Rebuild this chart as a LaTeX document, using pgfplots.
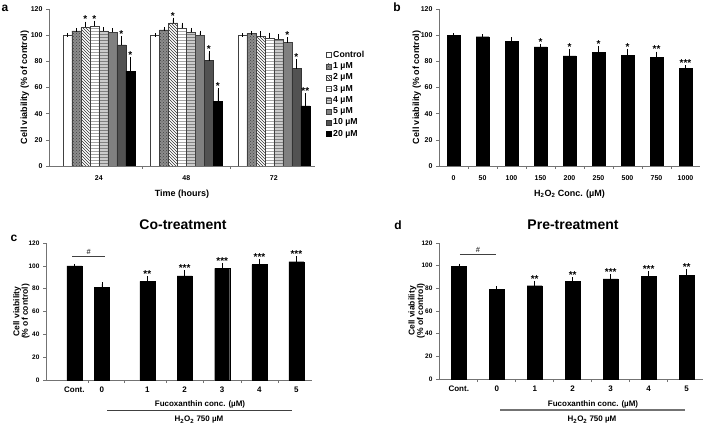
\documentclass[border=0pt]{standalone}
\usepackage{fontspec}
\setmainfont{Liberation Sans}
\usepackage{pgfplots}
\pgfplotsset{compat=1.18}
\usepackage{pgfplotstable}
\usetikzlibrary{patterns}

\newcommand{\fs}[1]{\fontsize{#1}{#1}\selectfont}

\pgfplotstableread{
g v0 e0 s0 v1 e1 s1 v2 e2 s2 v3 e3 s3 v4 e4 s4 v5 e5 s5 v6 e6 s6 v7 e7 s7
0 100 0 {} 103.2 0.4 {} 106.2 2.6 * 107.0 2.5 * 103.2 1.5 {} 102.2 1.5 {} 92.5 5.3 * 72.6 8.9 *
1 100 0 {} 104.0 0.4 {} 109.3 2.5 * 105.5 2.5 {} 102.4 1.6 {} 100.0 2.0 {} 80.6 5.4 * 49.6 8.5 *
2 100 0 {} 101.4 0.4 {} 98.9 2.5 {} 97.6 2.8 {} 97.0 2.0 {} 94.3 2.5 * 74.4 5.6 * 45.9 8.2 {**}
}\tabA

\pgfplotstableread{
x v e s
0 100.0 0.0 {}
1 98.8 0.3 {}
2 95.1 1.8 {}
3 91.0 0.8 *
4 84.1 3.9 *
5 86.7 3.3 *
6 84.6 3.4 *
7 83.3 2.6 {**}
8 74.9 0.5 {***}
}\tabB

\pgfplotstableread{
x v e s
0.00 100.0 0.0 {}
0.74 81.0 3.0 {}
1.96 86.3 2.8 {**}
2.96 91.3 3.3 {***}
3.97 97.7 3.2 {***}
4.97 101.0 3.0 {***}
5.96 103.6 3.2 {***}
}\tabC

\pgfplotstableread{
x v e s
0 99.7 0.3 {}
1 79.0 1.0 {}
2 82.3 2.5 {**}
3 86.0 2.2 {**}
4 88.4 2.3 {***}
5 90.7 2.8 {***}
6 91.7 3.3 {**}
}\tabD

\pgfplotsset{
  base/.style={
    scale only axis, anchor=south west,
    axis lines*=left,
    axis line style={black!55, line width=0.6pt},
    ymin=0, ymax=120, ytick={0,20,...,120},
    tick align=outside, major tick length=3pt, minor tick length=3pt,
    tick style={black!55, line width=0.6pt},
    major x tick style={draw=none},
    /pgf/number format/assume math mode=true,
    tick label style={font=\bfseries\fs{7}},
    label style={font=\bfseries\fs{9}},
    error bars/y dir=plus, error bars/y explicit,
    error bars/error bar style={black, line width=0.5pt},
    error bars/error mark options={black, line width=0.5pt, mark size=2pt},
  },
  stars/.style 2 args={visualization depends on={\thisrow{#1}\as\err},
    nodes near coords, point meta=explicit symbolic,
    every node near coord/.append style={font=\bfseries\fs{10}, anchor=south, inner sep=0pt, yshift={(\err*#2+0.5)*1pt}}},
}

\begin{document}
\begin{tikzpicture}
\path[use as bounding box] (0pt,0pt) rectangle (708pt,425pt);

% ---------- panel a
\begin{axis}[base, at={(49pt,259pt)}, width=266pt, height=157pt,
  ybar=0pt, bar width=9pt, xmin=-0.57, xmax=2.47,
  xtick={0,1,2}, xticklabels={24,48,72}, minor xtick={0.5,1.5},
  xticklabel style={yshift=-3pt}, xlabel shift=3pt, ylabel shift=-5pt,
  xlabel={Time (hours)}, ylabel={Cell viability (\% of control)},
  legend style={at={(1.04,0.745)}, anchor=north west, draw=none, fill=none,
    font=\bfseries\fs{8.7}, row sep=-0.3pt, inner sep=0pt},
  legend cell align=left,
  legend image code/.code={\draw[#1] (0pt,-2.5pt) rectangle (5pt,2.5pt);}]
\addplot[fill=white, draw=black!75, stars={e0}{1.3083}] table[x=g,y=v0,y error=e0,meta=s0]{\tabA};
\addplot[fill=black!45, draw=black!75, postaction={pattern=crosshatch dots, pattern color=black!75}, stars={e1}{1.3083}] table[x=g,y=v1,y error=e1,meta=s1]{\tabA};
\addplot[fill=white, draw=black!75, postaction={pattern=north west lines, pattern color=black!80}, stars={e2}{1.3083}] table[x=g,y=v2,y error=e2,meta=s2]{\tabA};
\addplot[fill=white, draw=black!75, postaction={pattern=horizontal lines, pattern color=black!35}, stars={e3}{1.3083}] table[x=g,y=v3,y error=e3,meta=s3]{\tabA};
\addplot[fill=black!20, draw=black!75, postaction={pattern=horizontal lines, pattern color=black!50}, stars={e4}{1.3083}] table[x=g,y=v4,y error=e4,meta=s4]{\tabA};
\addplot[fill=black!50, draw=black!75, stars={e5}{1.3083}] table[x=g,y=v5,y error=e5,meta=s5]{\tabA};
\addplot[fill=black!68, draw=black!80, stars={e6}{1.3083}] table[x=g,y=v6,y error=e6,meta=s6]{\tabA};
\addplot[fill=black, draw=black, stars={e7}{1.3083}] table[x=g,y=v7,y error=e7,meta=s7]{\tabA};
\legend{Control,1 µM,2 µM,3 µM,4 µM,5 µM,10 µM,20 µM}
\end{axis}

% ---------- panel b
\begin{axis}[base, at={(439pt,259pt)}, width=261pt, height=157pt,
  ybar, bar width=13pt, xmin=-0.5, xmax=8.5,
  xtick={0,...,8}, xticklabels={0,50,100,150,200,250,500,750,1000},
  minor xtick={0.5,1.5,...,7.5},
  xticklabel style={yshift=-3pt}, xlabel shift=3pt, ylabel shift=-7pt,
  xlabel={H\textsubscript{2}O\textsubscript{2} Conc. (µM)}, ylabel={Cell viability (\% of control)}]
\addplot[fill=black, draw=black, stars={e}{1.3083}] table[x=x,y=v,y error=e,meta=s]{\tabB};
\end{axis}

% ---------- panel c
\begin{axis}[base, at={(46pt,45pt)}, width=266pt, height=137pt,
  ybar, bar width=15pt, xmin=-0.76, xmax=6.38,
  xtick={0,0.74,1.96,2.96,3.97,4.97,5.96}, xticklabels={Cont.,0,1,2,3,4,5},
  minor xtick={0.37,1.35,2.46,3.465,4.47,5.465},
  yticklabel style={font=\bfseries\fs{6.5}},
  xticklabel style={font=\bfseries\fs{8}},
  ylabel shift=-8pt,
  ylabel={Cell viability\\(\% of control)}, ylabel style={align=center, font=\bfseries\fs{8.5}}]
\addplot[fill=black, draw=black, stars={e}{1.1417}] table[x=x,y=v,y error=e,meta=s]{\tabC};
\draw[black!75, line width=0.6pt] (axis cs:-0.05,108.6) -- (axis cs:0.82,108.6) node[midway, above, inner sep=1pt, font=\bfseries\fs{7.5}] {\#};
\end{axis}

% ---------- panel d
\begin{axis}[base, at={(439pt,46pt)}, width=264pt, height=136pt,
  ybar, bar width=15pt, xmin=-0.52, xmax=6.43,
  xtick={0,...,6}, xticklabels={Cont.,0,1,2,3,4,5},
  minor xtick={0.5,1.5,...,5.5},
  yticklabel style={font=\bfseries\fs{6.5}},
  xticklabel style={font=\bfseries\fs{8}},
  ylabel shift=-10pt,
  ylabel={Cell viability\\(\% of control)}, ylabel style={align=center, font=\bfseries\fs{8.5}}]
\addplot[fill=black, draw=black, stars={e}{1.1333}] table[x=x,y=v,y error=e,meta=s]{\tabD};
\draw[black!75, line width=0.6pt] (axis cs:0.03,110.3) -- (axis cs:0.98,110.3) node[midway, above, inner sep=1pt, font=\bfseries\fs{7.5}] {\#};
\end{axis}

% ---------- titles, letters, annotations
\node[font=\bfseries\fs{12}] at (5pt,417pt) {a};
\node[font=\bfseries\fs{12}] at (397pt,418pt) {b};
\node[font=\bfseries\fs{12}] at (14pt,187pt) {c};
\node[font=\bfseries\fs{12}] at (398pt,200pt) {d};
\node[font=\bfseries\fs{14}] at (183pt,200pt) {Co-treatment};
\node[font=\bfseries\fs{14}] at (573pt,200pt) {Pre-treatment};

\node[font=\bfseries\fs{8}] at (200pt,21pt) {Fucoxanthin conc. (µM)};
\draw[black!75, line width=1pt] (107pt,15pt) -- (292pt,15pt);
\node[font=\bfseries\fs{8}] at (199pt,5pt) {H\textsubscript{2}O\textsubscript{2} 750 µM};

\node[font=\bfseries\fs{8}] at (593pt,21pt) {Fucoxanthin conc. (µM)};
\draw[black!55, line width=1.2pt] (500pt,15pt) -- (685pt,15pt);
\node[font=\bfseries\fs{8}] at (592pt,5pt) {H\textsubscript{2}O\textsubscript{2} 750 µM};
\end{tikzpicture}
\end{document}
